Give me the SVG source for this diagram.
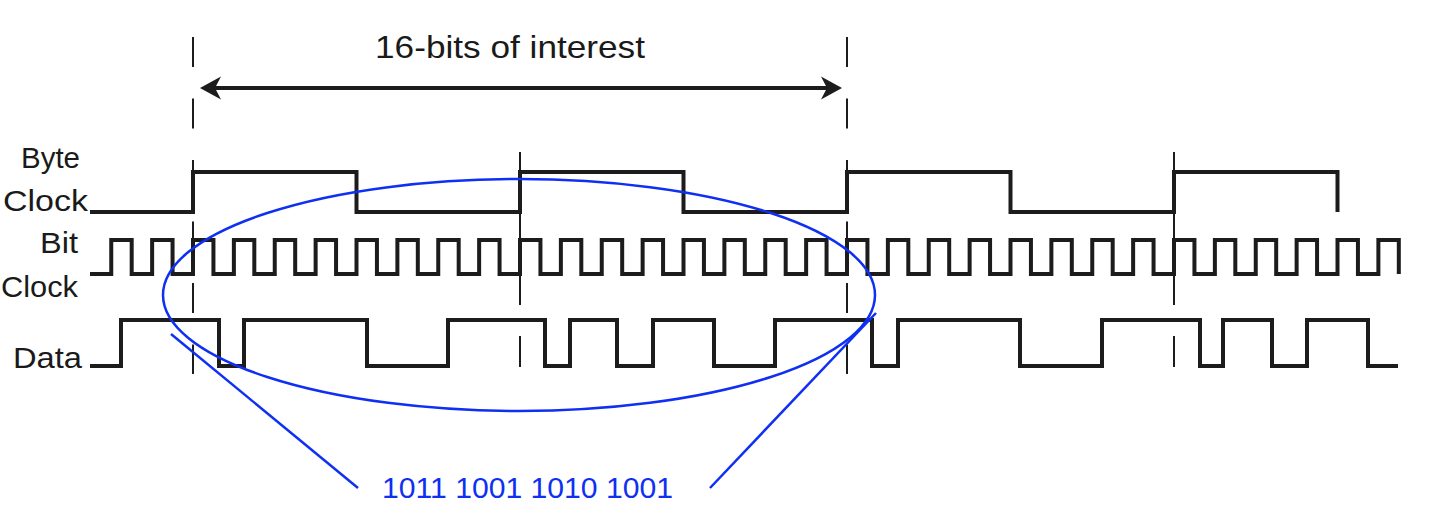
<svg xmlns="http://www.w3.org/2000/svg" width="1430" height="530" viewBox="0 0 1430 530">
<style>
  .lbl { font-family: "Liberation Sans", Arial, sans-serif; fill: #1a1a1a; }
  .wave { fill: none; stroke: #1c1c1c; stroke-width: 4; stroke-linejoin: miter; stroke-linecap: butt; }
  .mark { fill: none; stroke: #1c1c1c; stroke-width: 2; }
  .blue { fill: none; stroke: #0f2ff2; stroke-width: 2.5; }
  .btxt { font-family: "Liberation Sans", Arial, sans-serif; fill: #0f2ff2; }
</style>
<rect width="1430" height="530" fill="#ffffff"/>

<g id="labels">
  <text class="lbl" x="21" y="168" font-size="30" textLength="59" lengthAdjust="spacingAndGlyphs">Byte</text>
  <text class="lbl" x="3" y="211" font-size="30" textLength="85" lengthAdjust="spacingAndGlyphs">Clock</text>
  <text class="lbl" x="40" y="253" font-size="30" textLength="38" lengthAdjust="spacingAndGlyphs">Bit</text>
  <text class="lbl" x="1" y="297" font-size="30" textLength="77" lengthAdjust="spacingAndGlyphs">Clock</text>
  <text class="lbl" x="13" y="368" font-size="30" textLength="69" lengthAdjust="spacingAndGlyphs">Data</text>
</g>

<g id="markers">
  <line class="mark" x1="193" y1="37" x2="193" y2="374" stroke-dasharray="30 31.5"/>
  <line class="mark" x1="847" y1="37" x2="847" y2="374" stroke-dasharray="30 31.5"/>
  <line class="mark" x1="520" y1="152" x2="520" y2="305"/>
  <line class="mark" x1="520" y1="336" x2="520" y2="367"/>
  <line class="mark" x1="1174" y1="152" x2="1174" y2="305"/>
  <line class="mark" x1="1174" y1="336" x2="1174" y2="367"/>
</g>

<g id="interval">
  <text class="lbl" x="375" y="58" font-size="32" textLength="270" lengthAdjust="spacingAndGlyphs">16-bits of interest</text>
  <line x1="212" y1="88" x2="830" y2="88" stroke="#1c1c1c" stroke-width="4"/>
  <path d="M200,88 L221,76.5 L215,88 L221,99.5 Z" fill="#1c1c1c"/>
  <path d="M842,88 L821,76.5 L827,88 L821,99.5 Z" fill="#1c1c1c"/>
</g>

<g id="byte-clock">
  <path class="wave" d="M90,212 H193 V172 H356.5 V212 H520 V172 H683.5 V212 H847 V172 H1010.5 V212 H1174 V172 H1337.5 V212"/>
</g>

<g id="bit-clock">
  <path class="wave" d="M90,274 H111.25 V240 H131.69 V274 H152.13 V240 H172.56 V274 H193 V240 H213.44 V274 H233.88 V240 H254.31 V274 H274.75 V240 H295.19 V274 H315.63 V240 H336.06 V274 H356.5 V240 H376.94 V274 H397.38 V240 H417.81 V274 H438.25 V240 H458.69 V274 H479.13 V240 H499.56 V274 H520 V240 H540.44 V274 H560.88 V240 H581.31 V274 H601.75 V240 H622.19 V274 H642.63 V240 H663.06 V274 H683.5 V240 H703.94 V274 H724.38 V240 H744.81 V274 H765.25 V240 H785.69 V274 H806.13 V240 H826.56 V274 H847 V240 H867.44 V274 H887.88 V240 H908.31 V274 H928.75 V240 H949.19 V274 H969.63 V240 H990.06 V274 H1010.5 V240 H1030.94 V274 H1051.38 V240 H1071.81 V274 H1092.25 V240 H1112.69 V274 H1133.13 V240 H1153.56 V274 H1174 V240 H1194.44 V274 H1214.88 V240 H1235.31 V274 H1255.75 V240 H1276.19 V274 H1296.63 V240 H1317.06 V274 H1337.5 V240 H1357.94 V274 H1378.38 V240 H1398.81 V274"/>
</g>

<g id="data">
  <path class="wave" d="M90,366 H121 V320 H219 V366 H244 V320 H367 V366 H448 V320 H545 V366 H570 V320 H617 V366 H653 V320 H714 V366 H775 V320 H872 V366 H898 V320 H1020 V366 H1102 V320 H1200 V366 H1223 V320 H1272 V366 H1307 V320 H1368 V366 H1398"/>
</g>

<g id="annotation">
  <ellipse class="blue" cx="519" cy="295" rx="356" ry="116"/>
  <line class="blue" x1="171" y1="334" x2="358" y2="488"/>
  <line class="blue" x1="876" y1="313" x2="710" y2="488"/>
  <text class="btxt" x="382" y="498" font-size="29" textLength="291" lengthAdjust="spacingAndGlyphs">1011 1001 1010 1001</text>
</g>
</svg>
